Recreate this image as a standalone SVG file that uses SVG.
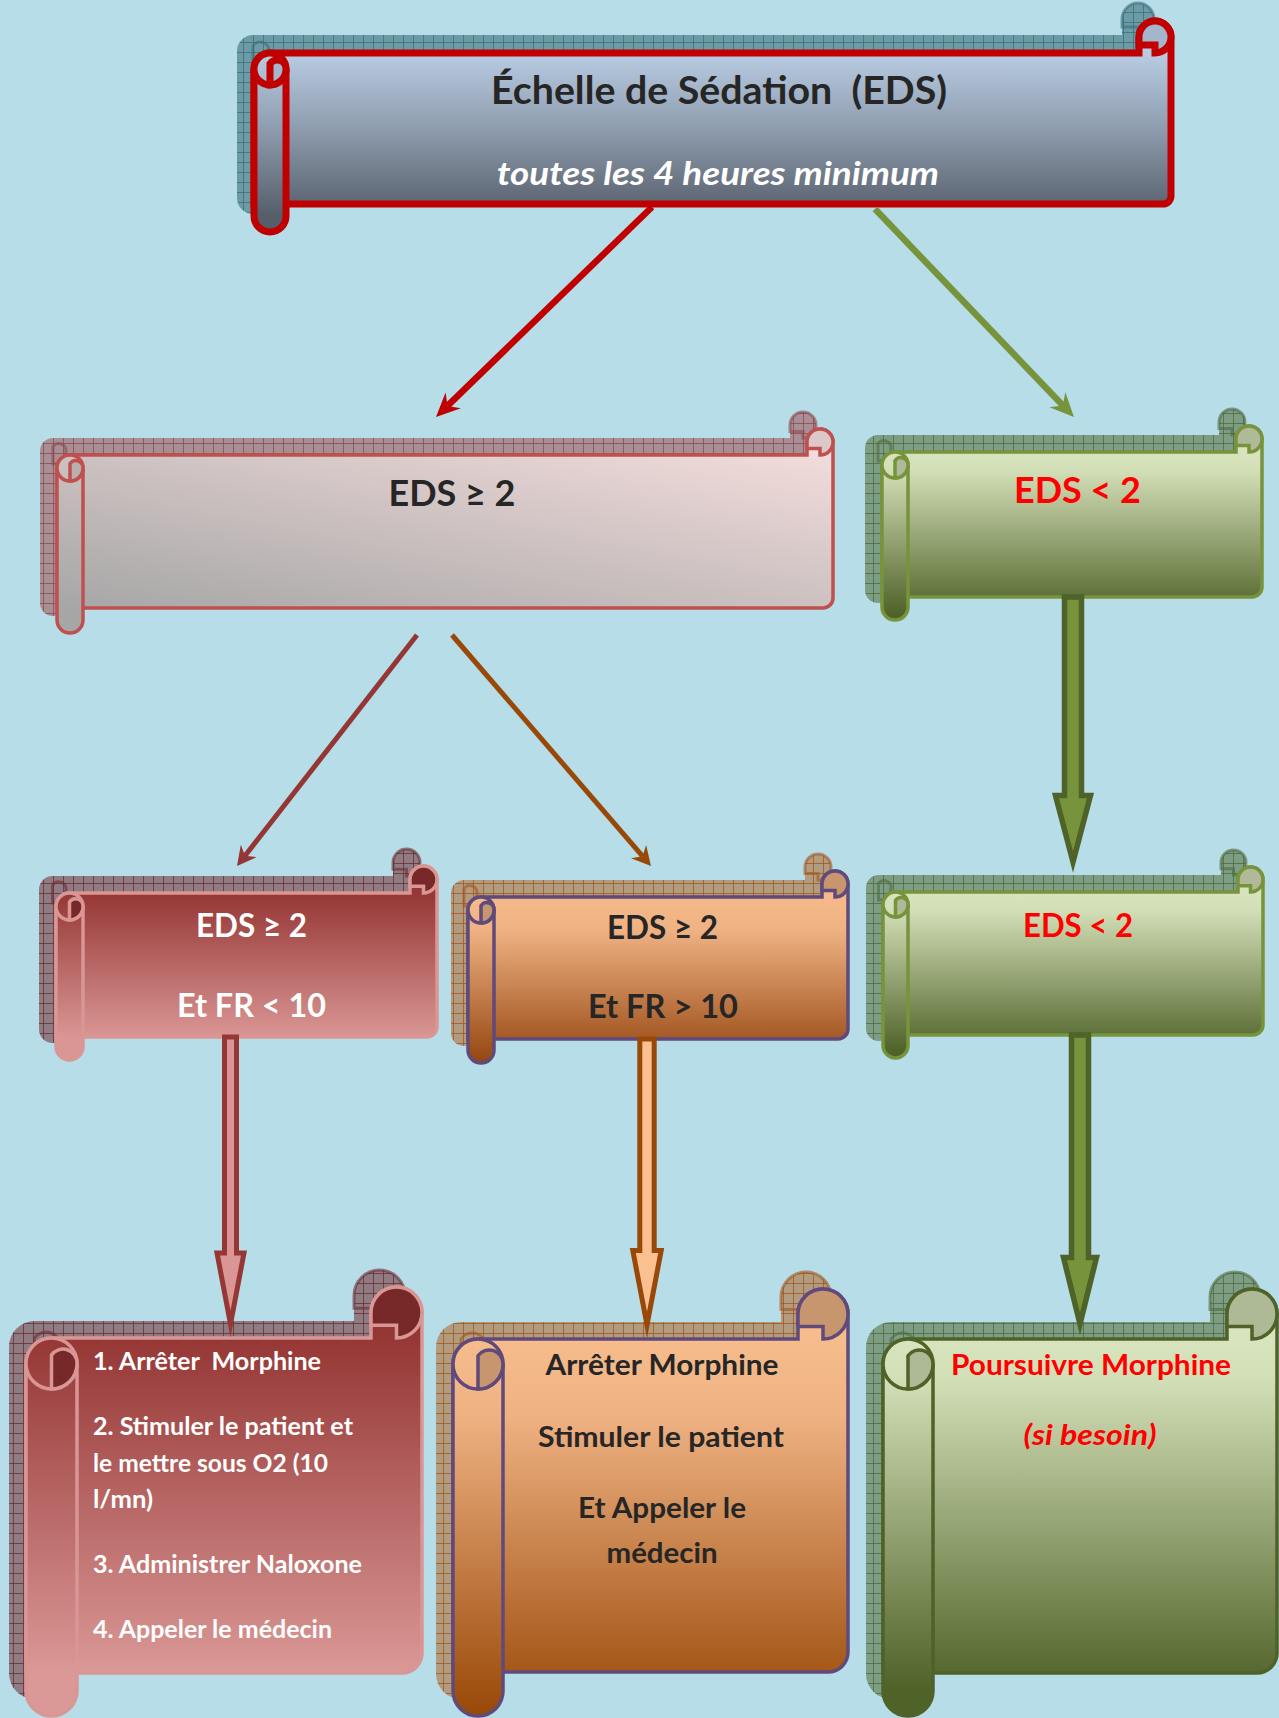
<svg xmlns="http://www.w3.org/2000/svg" width="1279" height="1718" viewBox="0 0 1279 1718">
<style>
.t{font-family:Lato,'Open Sans','Liberation Sans',sans-serif;font-weight:bold}
.c{text-anchor:middle}
.dk{fill:#262626}.rd{fill:#FF0000}.wh{fill:#FFFFFF}
.it{font-style:italic}
.sh{fill:none;stroke-width:3;opacity:.6}
</style>
<defs>
<pattern id="pTeal" width="10" height="10" patternUnits="userSpaceOnUse"><rect width="10" height="10" fill="#6C9BA5"/><path d="M0,0.5H10M0.5,0V10" stroke="#3A6E79" stroke-width="0.8"/></pattern>
<pattern id="pMauve" width="10" height="10" patternUnits="userSpaceOnUse"><rect width="10" height="10" fill="#A88F95"/><path d="M0,0.5H10M0.5,0V10" stroke="#8C4A50" stroke-width="0.8"/></pattern>
<pattern id="pGreen" width="10" height="10" patternUnits="userSpaceOnUse"><rect width="10" height="10" fill="#7E9D85"/><path d="M0,0.5H10M0.5,0V10" stroke="#4E6B3E" stroke-width="0.8"/></pattern>
<pattern id="pRed" width="10" height="10" patternUnits="userSpaceOnUse"><rect width="10" height="10" fill="#8F7C83"/><path d="M0,0.5H10M0.5,0V10" stroke="#6B2D33" stroke-width="0.8"/></pattern>
<pattern id="pOrange" width="10" height="10" patternUnits="userSpaceOnUse"><rect width="10" height="10" fill="#B29C80"/><path d="M0,0.5H10M0.5,0V10" stroke="#A3571F" stroke-width="0.8"/></pattern>
<linearGradient id="g1" gradientUnits="userSpaceOnUse" x1="0" y1="53" x2="0" y2="215"><stop offset="0" stop-color="#B9CCE3"/><stop offset="0.45" stop-color="#909EB0"/><stop offset="1" stop-color="#565E6A"/></linearGradient>
<linearGradient id="g2" gradientUnits="userSpaceOnUse" gradientTransform="matrix(776 0 0 153 57 455)" x1="1" y1="0" x2="0" y2="1"><stop offset="0" stop-color="#F2DCDB"/><stop offset="1" stop-color="#A6A6A6"/></linearGradient>
<linearGradient id="g3" gradientUnits="userSpaceOnUse" x1="0" y1="452" x2="0" y2="615"><stop offset="0" stop-color="#D7E4BD"/><stop offset="0.12" stop-color="#D2DEB6"/><stop offset="1" stop-color="#4F6228"/></linearGradient>
<linearGradient id="g4" gradientUnits="userSpaceOnUse" x1="0" y1="893" x2="0" y2="1037"><stop offset="0" stop-color="#953735"/><stop offset="1" stop-color="#D99694"/></linearGradient>
<linearGradient id="g5" gradientUnits="userSpaceOnUse" x1="0" y1="897" x2="0" y2="1063"><stop offset="0" stop-color="#F5B98A"/><stop offset="0.2" stop-color="#EFB283"/><stop offset="1" stop-color="#944510"/></linearGradient>
<linearGradient id="g6" gradientUnits="userSpaceOnUse" x1="0" y1="892" x2="0" y2="1052"><stop offset="0" stop-color="#D7E4BD"/><stop offset="0.12" stop-color="#D2DEB6"/><stop offset="1" stop-color="#4F6228"/></linearGradient>
<linearGradient id="g7" gradientUnits="userSpaceOnUse" x1="0" y1="1338" x2="0" y2="1673"><stop offset="0" stop-color="#953735"/><stop offset="1" stop-color="#DA9896"/></linearGradient>
<linearGradient id="g8" gradientUnits="userSpaceOnUse" x1="0" y1="1339" x2="0" y2="1716"><stop offset="0" stop-color="#F6BC8C"/><stop offset="0.2" stop-color="#EFB283"/><stop offset="1" stop-color="#984807"/></linearGradient>
<linearGradient id="g9" gradientUnits="userSpaceOnUse" x1="0" y1="1339" x2="0" y2="1690"><stop offset="0" stop-color="#D7E4BD"/><stop offset="0.12" stop-color="#D2DEB6"/><stop offset="1" stop-color="#4F6228"/></linearGradient>
<marker id="mRed" markerUnits="userSpaceOnUse" viewBox="-12 -14 32 28" markerWidth="32" markerHeight="28" refX="0" refY="0" orient="auto" overflow="visible"><path d="M16,0 L-8,-11 L0,0 L-8,11 Z" fill="#C00000"/></marker>
<marker id="mGreen" markerUnits="userSpaceOnUse" viewBox="-12 -14 32 28" markerWidth="32" markerHeight="28" refX="0" refY="0" orient="auto" overflow="visible"><path d="M16,0 L-8,-11 L0,0 L-8,11 Z" fill="#77933C"/></marker>
<marker id="mMaroon" markerUnits="userSpaceOnUse" viewBox="-10 -12 28 24" markerWidth="28" markerHeight="24" refX="0" refY="0" orient="auto" overflow="visible"><path d="M13,0 L-6,-10 L0,0 L-6,10 Z" fill="#943634"/></marker>
<marker id="mBrown" markerUnits="userSpaceOnUse" viewBox="-10 -12 28 24" markerWidth="28" markerHeight="24" refX="0" refY="0" orient="auto" overflow="visible"><path d="M13,0 L-6,-10 L0,0 L-6,10 Z" fill="#984807"/></marker>
</defs>
<rect width="1279" height="1718" fill="#B7DDE8"/>

<g id="node-eds-header">
 <g transform="translate(-17,-18)">
  <path d="M254,69 A16,16 0 0 1 270,53 H1139 V37 A16,16 0 0 1 1171,37 V196 A8,8 0 0 1 1163,204 H254 Z" fill="url(#pTeal)"/>
  <path d="M254,69 V216 A16,16 0 0 0 286,216 V69" fill="url(#pTeal)"/>
  <path class="sh" stroke="#3A6E79" d="M270,85 A16,16 0 0 0 286,69 A8.8,8.8 0 0 0 270,63.7 Z M1139,37 A16,16 0 0 1 1171,37 A16,16 0 0 1 1155,53 V45 H1139 Z"/>
 </g>
 <g stroke="#C00000" stroke-width="7">
  <path d="M254,69 A16,16 0 0 1 270,53 H1139 V37 A16,16 0 0 1 1171,37 V196 A8,8 0 0 1 1163,204 H254 Z" fill="url(#g1)"/>
  <path d="M254,69 V216 A16,16 0 0 0 286,216 V69" fill="url(#g1)"/>
  <circle cx="270" cy="69" r="16" fill="url(#g1)"/>
  <path d="M270,85 A16,16 0 0 0 286,69 A8.8,8.8 0 0 0 270,63.7 Z" fill="#A4B6CC"/>
  <path d="M1139,37 A16,16 0 0 1 1171,37 A16,16 0 0 1 1155,53 V45 H1139 Z" fill="#A4B6CC"/>
 </g>
 <text class="t c dk" x="719" y="104" font-size="39" textLength="456" lengthAdjust="spacingAndGlyphs" xml:space="preserve">Échelle de Sédation  (EDS)</text>
 <text class="t c wh it" x="718" y="185" font-size="32" textLength="442" lengthAdjust="spacingAndGlyphs">toutes les 4 heures minimum</text>
</g>

<g id="node-eds-ge2">
 <g transform="translate(-17,-17)">
  <path d="M57,468 A13,13 0 0 1 70,455 H807 V442 A13,13 0 0 1 833,442 V598 A10,10 0 0 1 823,608 H57 Z" fill="url(#pMauve)"/>
  <path d="M57,468 V620 A13,13 0 0 0 83,620 V468" fill="url(#pMauve)"/>
  <path class="sh" stroke="#8C4A50" d="M70,481 A13,13 0 0 0 83,468 A7.15,7.15 0 0 0 70,463.7 Z M807,442 A13,13 0 0 1 833,442 A13,13 0 0 1 820,455 V448.5 H807 Z"/>
 </g>
 <g stroke="#C0504D" stroke-width="3.5">
  <path d="M57,468 A13,13 0 0 1 70,455 H807 V442 A13,13 0 0 1 833,442 V598 A10,10 0 0 1 823,608 H57 Z" fill="url(#g2)"/>
  <path d="M57,468 V620 A13,13 0 0 0 83,620 V468" fill="url(#g2)"/>
  <circle cx="70" cy="468" r="13" fill="url(#g2)"/>
  <path d="M70,481 A13,13 0 0 0 83,468 A7.15,7.15 0 0 0 70,463.7 Z" fill="#B8B0B0"/>
  <path d="M807,442 A13,13 0 0 1 833,442 A13,13 0 0 1 820,455 V448.5 H807 Z" fill="#DCC8C8"/>
 </g>
 <text class="t c dk" x="452" y="506" font-size="37" textLength="127" lengthAdjust="spacingAndGlyphs">EDS ≥ 2</text>
</g>

<g id="node-eds-lt2-a">
 <g transform="translate(-17,-17)">
  <path d="M882,465 A13,13 0 0 1 895,452 H1236 V439 A13,13 0 0 1 1262,439 V587 A10,10 0 0 1 1252,597 H882 Z" fill="url(#pGreen)"/>
  <path d="M882,465 V607 A13,13 0 0 0 908,607 V465" fill="url(#pGreen)"/>
  <path class="sh" stroke="#4E6B3E" d="M895,478 A13,13 0 0 0 908,465 A7.15,7.15 0 0 0 895,460.7 Z M1236,439 A13,13 0 0 1 1262,439 A13,13 0 0 1 1249,452 V445.5 H1236 Z"/>
 </g>
 <g stroke="#77933C" stroke-width="3.5">
  <path d="M882,465 A13,13 0 0 1 895,452 H1236 V439 A13,13 0 0 1 1262,439 V587 A10,10 0 0 1 1252,597 H882 Z" fill="url(#g3)"/>
  <path d="M882,465 V607 A13,13 0 0 0 908,607 V465" fill="url(#g3)"/>
  <circle cx="895" cy="465" r="13" fill="url(#g3)"/>
  <path d="M895,478 A13,13 0 0 0 908,465 A7.15,7.15 0 0 0 895,460.7 Z" fill="#B0BA98"/>
  <path d="M1236,439 A13,13 0 0 1 1262,439 A13,13 0 0 1 1249,452 V445.5 H1236 Z" fill="#B0BA98"/>
 </g>
 <text class="t c rd" x="1077.5" y="503" font-size="37" textLength="127" lengthAdjust="spacingAndGlyphs">EDS &lt; 2</text>
</g>

<g id="node-eds-ge2-fr-lt10">
 <g transform="translate(-17,-17)">
  <path d="M56,906.5 A13.5,13.5 0 0 1 69.5,893 H410 V879.5 A13.5,13.5 0 0 1 437,879.5 V1027 A10,10 0 0 1 427,1037 H56 Z" fill="url(#pRed)"/>
  <path d="M56,906.5 V1046.5 A13.5,13.5 0 0 0 83,1046.5 V906.5" fill="url(#pRed)"/>
  <path class="sh" stroke="#6B2D33" d="M69.5,920 A13.5,13.5 0 0 0 83,906.5 A7.4,7.4 0 0 0 69.5,902 Z M410,879.5 A13.5,13.5 0 0 1 437,879.5 A13.5,13.5 0 0 1 423.5,893 V886.25 H410 Z"/>
 </g>
 <g stroke="#D99694" stroke-width="3.5">
  <path d="M56,906.5 A13.5,13.5 0 0 1 69.5,893 H410 V879.5 A13.5,13.5 0 0 1 437,879.5 V1027 A10,10 0 0 1 427,1037 H56 Z" fill="url(#g4)"/>
  <path d="M56,906.5 V1046.5 A13.5,13.5 0 0 0 83,1046.5 V906.5" fill="url(#g4)"/>
  <circle cx="69.5" cy="906.5" r="13.5" fill="url(#g4)"/>
  <path d="M69.5,920 A13.5,13.5 0 0 0 83,906.5 A7.4,7.4 0 0 0 69.5,902 Z" fill="#772828"/>
  <path d="M410,879.5 A13.5,13.5 0 0 1 437,879.5 A13.5,13.5 0 0 1 423.5,893 V886.25 H410 Z" fill="#772828"/>
 </g>
 <text class="t c wh" x="251.5" y="937" font-size="32" textLength="111" lengthAdjust="spacingAndGlyphs">EDS ≥ 2</text>
 <text class="t c wh" x="251.5" y="1017" font-size="32" textLength="149" lengthAdjust="spacingAndGlyphs">Et FR &lt; 10</text>
</g>

<g id="node-eds-ge2-fr-gt10">
 <g transform="translate(-17,-17)">
  <path d="M468,910 A13,13 0 0 1 481,897 H822 V884 A13,13 0 0 1 848,884 V1029 A10,10 0 0 1 838,1039 H468 Z" fill="url(#pOrange)"/>
  <path d="M468,910 V1050 A13,13 0 0 0 494,1050 V910" fill="url(#pOrange)"/>
  <path class="sh" stroke="#A3571F" d="M481,923 A13,13 0 0 0 494,910 A7.15,7.15 0 0 0 481,905.7 Z M822,884 A13,13 0 0 1 848,884 A13,13 0 0 1 835,897 V890.5 H822 Z"/>
 </g>
 <g stroke="#604A7B" stroke-width="3.5">
  <path d="M468,910 A13,13 0 0 1 481,897 H822 V884 A13,13 0 0 1 848,884 V1029 A10,10 0 0 1 838,1039 H468 Z" fill="url(#g5)"/>
  <path d="M468,910 V1050 A13,13 0 0 0 494,1050 V910" fill="url(#g5)"/>
  <circle cx="481" cy="910" r="13" fill="url(#g5)"/>
  <path d="M481,923 A13,13 0 0 0 494,910 A7.15,7.15 0 0 0 481,905.7 Z" fill="#C8966E"/>
  <path d="M822,884 A13,13 0 0 1 848,884 A13,13 0 0 1 835,897 V890.5 H822 Z" fill="#C8966E"/>
 </g>
 <text class="t c dk" x="662.5" y="939" font-size="32" textLength="111" lengthAdjust="spacingAndGlyphs">EDS ≥ 2</text>
 <text class="t c dk" x="663" y="1018" font-size="32" textLength="150" lengthAdjust="spacingAndGlyphs">Et FR &gt; 10</text>
</g>

<g id="node-eds-lt2-b">
 <g transform="translate(-17,-17)">
  <path d="M883,904.5 A12.5,12.5 0 0 1 895.5,892 H1238 V879.5 A12.5,12.5 0 0 1 1263,879.5 V1025 A10,10 0 0 1 1253,1035 H883 Z" fill="url(#pGreen)"/>
  <path d="M883,904.5 V1045.5 A12.5,12.5 0 0 0 908,1045.5 V904.5" fill="url(#pGreen)"/>
  <path class="sh" stroke="#4E6B3E" d="M895.5,917 A12.5,12.5 0 0 0 908,904.5 A6.9,6.9 0 0 0 895.5,900.4 Z M1238,879.5 A12.5,12.5 0 0 1 1263,879.5 A12.5,12.5 0 0 1 1250.5,892 V885.75 H1238 Z"/>
 </g>
 <g stroke="#77933C" stroke-width="3.5">
  <path d="M883,904.5 A12.5,12.5 0 0 1 895.5,892 H1238 V879.5 A12.5,12.5 0 0 1 1263,879.5 V1025 A10,10 0 0 1 1253,1035 H883 Z" fill="url(#g6)"/>
  <path d="M883,904.5 V1045.5 A12.5,12.5 0 0 0 908,1045.5 V904.5" fill="url(#g6)"/>
  <circle cx="895.5" cy="904.5" r="12.5" fill="url(#g6)"/>
  <path d="M895.5,917 A12.5,12.5 0 0 0 908,904.5 A6.9,6.9 0 0 0 895.5,900.4 Z" fill="#B0BA98"/>
  <path d="M1238,879.5 A12.5,12.5 0 0 1 1263,879.5 A12.5,12.5 0 0 1 1250.5,892 V885.75 H1238 Z" fill="#B0BA98"/>
 </g>
 <text class="t c rd" x="1078" y="937" font-size="32" textLength="110" lengthAdjust="spacingAndGlyphs">EDS &lt; 2</text>
</g>

<g id="node-action-naloxone">
 <g transform="translate(-17,-17)">
  <path d="M26,1363.5 A25.5,25.5 0 0 1 51.5,1338 H371 V1312.5 A25.5,25.5 0 0 1 422,1312.5 V1653 A20,20 0 0 1 402,1673 H26 Z" fill="url(#pRed)"/>
  <path d="M26,1363.5 V1690.5 A25.5,25.5 0 0 0 77,1690.5 V1363.5" fill="url(#pRed)"/>
  <path class="sh" stroke="#6B2D33" d="M51.5,1389 A25.5,25.5 0 0 0 77,1363.5 A14,14 0 0 0 51.5,1355.1 Z M371,1312.5 A25.5,25.5 0 0 1 422,1312.5 A25.5,25.5 0 0 1 396.5,1338 V1325.25 H371 Z"/>
 </g>
 <g stroke="#D99694" stroke-width="3.5">
  <path d="M26,1363.5 A25.5,25.5 0 0 1 51.5,1338 H371 V1312.5 A25.5,25.5 0 0 1 422,1312.5 V1653 A20,20 0 0 1 402,1673 H26 Z" fill="url(#g7)"/>
  <path d="M26,1363.5 V1690.5 A25.5,25.5 0 0 0 77,1690.5 V1363.5" fill="url(#g7)"/>
  <circle cx="51.5" cy="1363.5" r="25.5" fill="url(#g7)"/>
  <path d="M51.5,1389 A25.5,25.5 0 0 0 77,1363.5 A14,14 0 0 0 51.5,1355.1 Z" fill="#772828"/>
  <path d="M371,1312.5 A25.5,25.5 0 0 1 422,1312.5 A25.5,25.5 0 0 1 396.5,1338 V1325.25 H371 Z" fill="#772828"/>
 </g>
 <g class="t wh" font-size="24">
  <text x="93" y="1370" textLength="228" lengthAdjust="spacingAndGlyphs" xml:space="preserve">1. Arrêter  Morphine</text>
  <text x="93" y="1435" textLength="260" lengthAdjust="spacingAndGlyphs">2. Stimuler le patient et</text>
  <text x="93" y="1472" textLength="235" lengthAdjust="spacingAndGlyphs">le mettre sous O2 (10</text>
  <text x="93" y="1508" textLength="60" lengthAdjust="spacingAndGlyphs">l/mn)</text>
  <text x="93" y="1573" textLength="269" lengthAdjust="spacingAndGlyphs">3. Administrer Naloxone</text>
  <text x="93" y="1638" textLength="239" lengthAdjust="spacingAndGlyphs">4. Appeler le médecin</text>
 </g>
</g>

<g id="node-action-stimuler">
 <g transform="translate(-17,-17)">
  <path d="M453,1364 A25,25 0 0 1 478,1339 H798 V1314 A25,25 0 0 1 848,1314 V1652 A20,20 0 0 1 828,1672 H453 Z" fill="url(#pOrange)"/>
  <path d="M453,1364 V1691 A25,25 0 0 0 503,1691 V1364" fill="url(#pOrange)"/>
  <path class="sh" stroke="#A3571F" d="M478,1389 A25,25 0 0 0 503,1364 A13.75,13.75 0 0 0 478,1355.75 Z M798,1314 A25,25 0 0 1 848,1314 A25,25 0 0 1 823,1339 V1326.5 H798 Z"/>
 </g>
 <g stroke="#604A7B" stroke-width="3.5">
  <path d="M453,1364 A25,25 0 0 1 478,1339 H798 V1314 A25,25 0 0 1 848,1314 V1652 A20,20 0 0 1 828,1672 H453 Z" fill="url(#g8)"/>
  <path d="M453,1364 V1691 A25,25 0 0 0 503,1691 V1364" fill="url(#g8)"/>
  <circle cx="478" cy="1364" r="25" fill="url(#g8)"/>
  <path d="M478,1389 A25,25 0 0 0 503,1364 A13.75,13.75 0 0 0 478,1355.75 Z" fill="#C8966E"/>
  <path d="M798,1314 A25,25 0 0 1 848,1314 A25,25 0 0 1 823,1339 V1326.5 H798 Z" fill="#C8966E"/>
 </g>
 <g class="t c dk" font-size="28">
  <text x="662" y="1375" textLength="233" lengthAdjust="spacingAndGlyphs">Arrêter Morphine</text>
  <text x="661" y="1447" textLength="246" lengthAdjust="spacingAndGlyphs">Stimuler le patient</text>
  <text x="662" y="1518" textLength="168" lengthAdjust="spacingAndGlyphs">Et Appeler le</text>
  <text x="662" y="1563" textLength="111" lengthAdjust="spacingAndGlyphs">médecin</text>
 </g>
</g>

<g id="node-action-poursuivre">
 <g transform="translate(-17,-17)">
  <path d="M883,1364 A25,25 0 0 1 908,1339 H1227 V1314 A25,25 0 0 1 1277,1314 V1653 A20,20 0 0 1 1257,1673 H883 Z" fill="url(#pGreen)"/>
  <path d="M883,1364 V1691 A25,25 0 0 0 933,1691 V1364" fill="url(#pGreen)"/>
  <path class="sh" stroke="#4E6B3E" d="M908,1389 A25,25 0 0 0 933,1364 A13.75,13.75 0 0 0 908,1355.75 Z M1227,1314 A25,25 0 0 1 1277,1314 A25,25 0 0 1 1252,1339 V1326.5 H1227 Z"/>
 </g>
 <g stroke="#4F6228" stroke-width="3.5">
  <path d="M883,1364 A25,25 0 0 1 908,1339 H1227 V1314 A25,25 0 0 1 1277,1314 V1653 A20,20 0 0 1 1257,1673 H883 Z" fill="url(#g9)"/>
  <path d="M883,1364 V1691 A25,25 0 0 0 933,1691 V1364" fill="url(#g9)"/>
  <circle cx="908" cy="1364" r="25" fill="url(#g9)"/>
  <path d="M908,1389 A25,25 0 0 0 933,1364 A13.75,13.75 0 0 0 908,1355.75 Z" fill="#AEB996"/>
  <path d="M1227,1314 A25,25 0 0 1 1277,1314 A25,25 0 0 1 1252,1339 V1326.5 H1227 Z" fill="#AEB996"/>
 </g>
 <text class="t c rd" x="1091" y="1375" font-size="28" textLength="280" lengthAdjust="spacingAndGlyphs">Poursuivre Morphine</text>
 <text class="t c rd it" x="1090" y="1445" font-size="28" textLength="133" lengthAdjust="spacingAndGlyphs">(si besoin)</text>
</g>

<g id="connectors" stroke-linejoin="miter" stroke-miterlimit="10">
 <line x1="652" y1="207" x2="447.5" y2="405.9" stroke="#C00000" stroke-width="6.5" marker-end="url(#mRed)"/>
 <line x1="875" y1="209" x2="1062.9" y2="405.5" stroke="#77933C" stroke-width="6.5" marker-end="url(#mGreen)"/>
 <line x1="417" y1="635" x2="245" y2="855.75" stroke="#943634" stroke-width="5" marker-end="url(#mMaroon)"/>
 <line x1="452" y1="635" x2="642.5" y2="856.15" stroke="#984807" stroke-width="5" marker-end="url(#mBrown)"/>
 <path d="M1064.5,597 V795.5 H1055.5 L1073,862 L1090.5,795.5 H1081.5 V597 Z" fill="#77933C" stroke="#4F6228" stroke-width="5.5"/>
 <path d="M224.5,1037 V1253 H217 L230.5,1324 L244,1253 H236.5 V1037 Z" fill="#D99694" stroke="#953735" stroke-width="5"/>
 <path d="M639.8,1039 V1250.5 H632.8 L647,1325 L661.2,1250.5 H654.2 V1039 Z" fill="#FAC090" stroke="#984807" stroke-width="5"/>
 <path d="M1071.5,1035 V1257.5 H1063.5 L1080,1324 L1096.5,1257.5 H1088.5 V1035 Z" fill="#77933C" stroke="#4F6228" stroke-width="5.5"/>
</g>
</svg>
